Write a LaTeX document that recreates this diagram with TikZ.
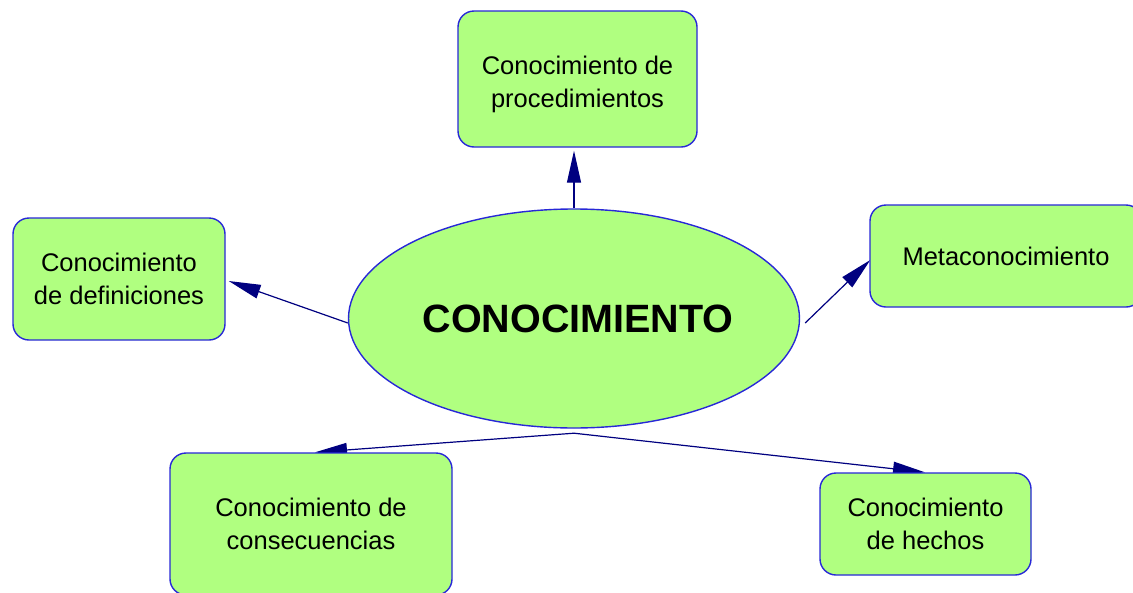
\documentclass[tikz,border=0pt]{standalone}
\usepackage{fontspec}
\setmainfont{Liberation Sans}
\usetikzlibrary{shapes.geometric,arrows.meta}
\pgfdeclarelayer{background}
\pgfsetlayers{background,main}
\definecolor{boxfill}{RGB}{176,255,128}
\definecolor{boxline}{RGB}{40,40,215}
\definecolor{linkline}{RGB}{0,0,128}
\tikzset{
  concept/.style={draw=boxline, fill=boxfill, line width=1.4pt, rounded corners=16pt,
    inner sep=0pt, align=center, font=\fontsize{25.5}{33}\selectfont},
  central/.style={draw=boxline, fill=boxfill, line width=1.4pt, ellipse, inner sep=0pt,
    minimum width=442pt, minimum height=219pt, font=\fontsize{39.5}{45}\selectfont\bfseries},
  link/.style={draw=linkline, line width=1.2pt, -{Triangle[length=32pt,width=14pt]}},
}
\begin{document}
\begin{tikzpicture}[x=1pt,y=-1pt]
\useasboundingbox (0,0) rectangle (1133,592);
\clip (0,0) rectangle (1133,592);
\node[central] (ell) at (574,318.5) {\hspace*{8pt}CONOCIMIENTO};
\node[concept, minimum width=239pt, minimum height=136pt,
  label={[yshift=-5pt, align=center, font=\fontsize{25.5}{33}\selectfont]center:{Conocimiento de\\procedimientos}}] (proc) at (577.5,79) {};
\node[concept, minimum width=212pt, minimum height=122pt] (def) at (119,279) {Conocimiento\\de definiciones};
\node[concept, minimum width=272pt, minimum height=102pt] (meta) at (1006,256) {Metaconocimiento};
\node[concept, minimum width=282pt, minimum height=142pt] (cons) at (311,524) {Conocimiento de\\consecuencias};
\node[concept, minimum width=211pt, minimum height=102pt] (hech) at (925.5,524) {Conocimiento\\de hechos};
\coordinate (hub) at ([yshift=-4.5pt]ell.south);
\begin{pgfonlayer}{background}
\draw[link] (ell.north) -- ([yshift=-3pt]ell.north |- proc.south);
\draw[link] ([yshift=-4.5pt]ell.west) -- ([xshift=3pt,yshift=-2pt]def.east);
\draw[link] ([xshift=5pt,yshift=-4.5pt]ell.east) -- ([xshift=1pt,yshift=-4pt]meta.west);
\draw[link] (hub) -- ([xshift=4pt]cons.north);
\draw[link] (hub) -- ([xshift=-0.5pt]hech.north);
\end{pgfonlayer}
\end{tikzpicture}
\end{document}
